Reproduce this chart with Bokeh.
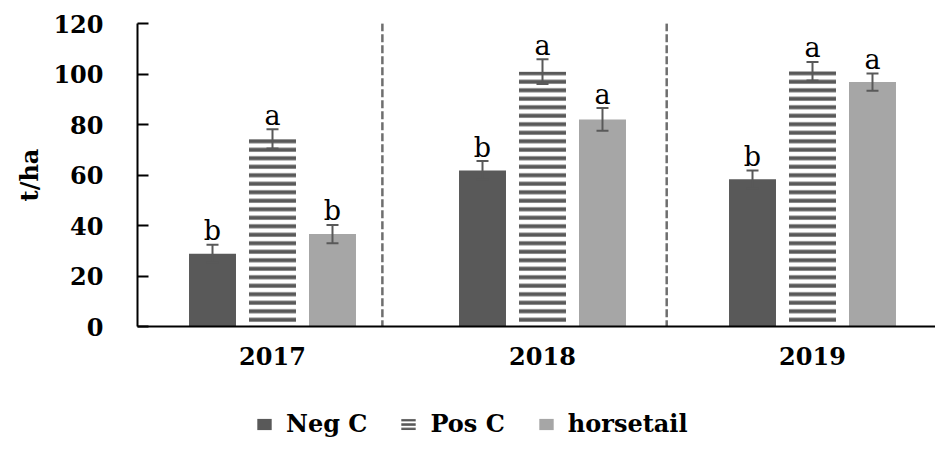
from bokeh.plotting import figure
from bokeh.layouts import column
from bokeh.models import (ColumnDataSource, Whisker, TeeHead, FixedTicker, Legend,
                          LegendItem, Range1d)
from bokeh.core.properties import value
from bokeh.embed import file_html
from bokeh.resources import INLINE

# ---- data ----
years = ["2017", "2018", "2019"]
series = ["Neg C", "Pos C", "horsetail"]
neg_c = [28.8, 61.8, 58.3]
neg_c_err = [3.6, 3.7, 3.5]
pos_c = [74.3, 100.9, 101.1]
pos_c_err = [3.8, 4.9, 3.7]
horsetail = [36.6, 82.0, 96.8]
horsetail_err = [3.6, 4.5, 3.4]
neg_c_letters = ["b", "b", "b"]
pos_c_letters = ["a", "a", "a"]
horsetail_letters = ["b", "a", "a"]
y_ticks = [0, 20, 40, 60, 80, 100, 120]
separators = [0.907, 1.96]

FONT = "DejaVu Serif"
DARK = "#595959"
LIGHT = "#A6A6A6"
W = 935
LEFT = 137

p = figure(width=W, height=395, output_backend="svg", toolbar_location=None,
           x_range=Range1d(0, (W - LEFT) / 270), y_range=Range1d(0, 120),
           min_border_left=LEFT, min_border_right=0, min_border_top=23,
           min_border_bottom=69)
p.outline_line_color = None
p.grid.visible = False

centers = [i + 0.5 for i in range(len(years))]
offsets = [-0.2222, 0.0, 0.2222]
bar_w = 0.174

vals = [neg_c, pos_c, horsetail]
errs = [neg_c_err, pos_c_err, horsetail_err]
letters = [neg_c_letters, pos_c_letters, horsetail_letters]

styles = [
    dict(fill_color=DARK, line_color=None),
    dict(fill_color="white", line_color=None, hatch_pattern="horizontal_line",
         hatch_color=DARK, hatch_scale=8.5, hatch_weight=4),
    dict(fill_color=LIGHT, line_color=None),
]

for k in range(3):
    xs = [c + offsets[k] for c in centers]
    src = ColumnDataSource(dict(
        x=xs, top=vals[k],
        upper=[v + e for v, e in zip(vals[k], errs[k])],
        lower=[v - e for v, e in zip(vals[k], errs[k])],
        lab=letters[k]))
    p.vbar(x="x", top="top", width=bar_w, source=src, **styles[k])
    w = Whisker(base="x", upper="upper", lower="lower", source=src,
                line_color=DARK, line_width=2, level="annotation",
                upper_head=TeeHead(size=12, line_color=DARK, line_width=2),
                lower_head=TeeHead(size=12, line_color=DARK, line_width=2))
    p.add_layout(w)
    p.text(x="x", y="upper", text="lab", source=src, text_font=value(FONT),
           text_font_size="27px", text_align="center", text_baseline="alphabetic",
           y_offset=-14, text_color="black")

# dashed separators
p.segment(x0=separators, y0=[-5] * len(separators), x1=separators,
          y1=[123.5] * len(separators), line_color="#6E6E6E", line_width=2.5,
          line_dash="8 3")

# axes
p.yaxis.ticker = FixedTicker(ticks=y_ticks)
p.yaxis.axis_label = "t/ha"
p.yaxis.axis_label_text_font = FONT
p.yaxis.axis_label_text_font_style = "bold"
p.yaxis.axis_label_text_font_size = "24px"
p.yaxis.axis_label_text_color = "black"
p.yaxis.axis_label_standoff = 6
p.yaxis.major_label_text_font = FONT
p.yaxis.major_label_text_font_style = "bold"
p.yaxis.major_label_text_font_size = "24px"
p.yaxis.major_label_text_color = "black"
p.yaxis.major_label_standoff = 34
p.yaxis.major_tick_in = 11
p.yaxis.major_tick_out = 0
p.yaxis.major_tick_line_width = 2
p.yaxis.major_tick_line_color = "black"
p.yaxis.minor_tick_line_color = None
p.yaxis.axis_line_width = 2
p.yaxis.axis_line_color = "black"

p.xaxis.ticker = FixedTicker(ticks=centers)
p.xaxis.major_label_overrides = {c: y for c, y in zip(centers, years)}
p.xaxis.major_label_text_font = FONT
p.xaxis.major_label_text_font_style = "bold"
p.xaxis.major_label_text_font_size = "24px"
p.xaxis.major_label_text_color = "black"
p.xaxis.major_label_standoff = 14
p.xaxis.major_tick_line_color = None
p.xaxis.minor_tick_line_color = None
p.xaxis.axis_line_width = 2
p.xaxis.axis_line_color = "black"

# ---- legend strip ----
LH = 45
q = figure(width=W, height=LH, output_backend="svg", toolbar_location=None,
           x_range=Range1d(0, W - LEFT), y_range=Range1d(0, LH),
           x_axis_type=None, y_axis_type=None,
           min_border_left=LEFT, min_border_right=0, min_border_top=0, min_border_bottom=0)
q.outline_line_color = None
q.grid.visible = False

legend_styles = [
    dict(fill_color=DARK, line_color=None),
    dict(fill_color="white", line_color=None, hatch_pattern="horizontal_line",
         hatch_color=DARK, hatch_scale=4.4, hatch_weight=2.6),
    dict(fill_color=LIGHT, line_color=None),
]
items = []
for s, st in zip(series, legend_styles):
    # zero-height stand-in bar so the legend has a glyph to draw
    r = q.vbar(x=[0], top=[0], width=0, **st)
    items.append(LegendItem(label=s, renderers=[r]))

legend = Legend(items=items, orientation="horizontal", location=(118, 2),
                border_line_color=None, background_fill_alpha=0, padding=0, margin=0,
                spacing=32, label_standoff=13, glyph_width=18, glyph_height=14,
                label_text_font=FONT, label_text_font_style="bold",
                label_text_font_size="24px", label_text_color="black")
q.add_layout(legend)

open("out.html", "w").write(file_html(column(p, q, spacing=0), INLINE))
